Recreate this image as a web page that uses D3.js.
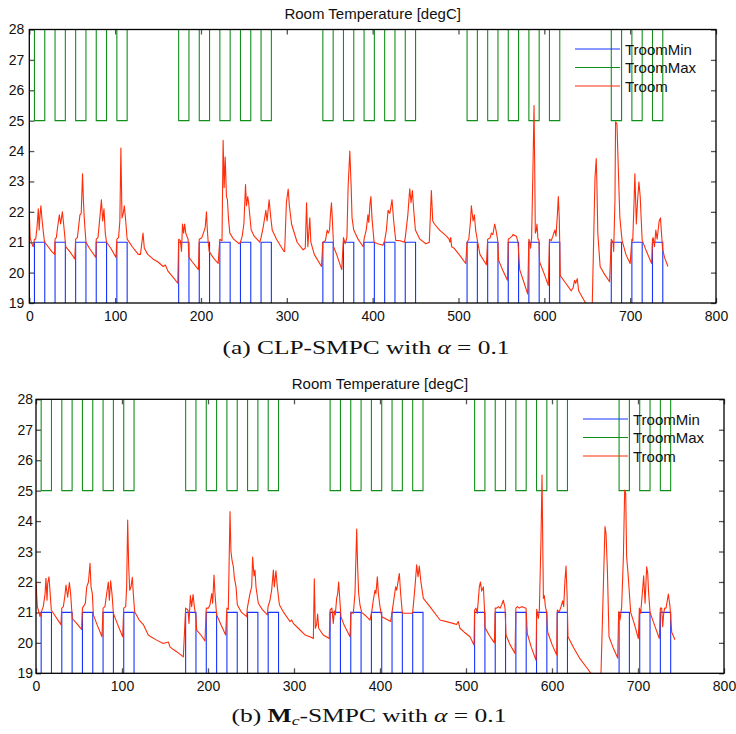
<!DOCTYPE html>
<html><head><meta charset="utf-8">
<script src="https://cdn.jsdelivr.net/npm/d3@7"></script>
<style>
html,body{margin:0;padding:0;background:#fff;}
svg{display:block;}
text{font-family:"Liberation Sans",Arial,Helvetica,sans-serif;fill:#111;}
</style></head>
<body>
<script>
// ---------- DATA ----------
const xTicks = [0,100,200,300,400,500,600,700,800];
const yTicks = [19,20,21,22,23,24,25,26,27,28];
const chartTitle = "Room Temperature [degC]";
const seriesNames = ["TroomMin","TroomMax","Troom"];

// setpoint change times (hours) and the bound values after each change
const setpointTimes = [0,6,18,30,42,54,66,78,90,102,114,
  174,186,198,210,222,234,246,258,270,282,
  342,354,366,378,390,402,414,426,438,450,
  510,522,534,546,558,570,582,594,606,618,
  678,690,702,714,726,738,744];
const troomMinVals = [16,21,16,21,16,21,16,21,16,21,16,
  21,16,21,16,21,16,21,16,21,16,
  21,16,21,16,21,16,21,16,21,16,
  21,16,21,16,21,16,21,16,21,16,
  21,16,21,16,21,16,16];
const troomMaxVals = [30,25,30,25,30,25,30,25,30,25,30,
  25,30,25,30,25,30,25,30,25,30,
  25,30,25,30,25,30,25,30,25,30,
  25,30,25,30,25,30,25,30,25,30,
  25,30,25,30,25,30,30];

// (a) CLP-SMPC room temperature [hour, degC]
const troomA = [[0,22.0],[1,21.15],[3,20.95],[4.5,20.85],[6,21.1],[7.5,21.1],[9,21.5],[10.5,22.1],[11.5,21.4],[12.5,21.9],[13.5,22.2],[15,21.7],[16.5,21.3],[17.5,21.05],[18,21.0],[22,20.85],[26,20.7],[29.5,20.6],
[30,21.1],[31.5,21.15],[33,21.5],[35,21.9],[36.5,21.6],[38.5,22.0],[40,21.6],[42,21.0],[42.5,20.85],[47,20.7],[53,20.45],
[54,21.1],[56,21.15],[59,21.9],[60.5,21.95],[62,23.25],[63,22.4],[64,21.8],[66,21.0],[70,20.8],[77.5,20.5],
[78,21.1],[80,21.15],[82.5,21.9],[84,22.4],[85.5,21.7],[87,22.1],[88.5,21.3],[90,21.0],[95,20.8],[101,20.5],
[102,21.1],[104,21.15],[105.5,21.7],[106.7,24.1],[108,21.8],[109.5,21.95],[110.7,22.2],[112,21.8],[114,21.1],[120,20.85],[127,20.6],[129.5,20.6],[132.5,21.3],[134,20.8],[138,20.6],[144,20.45],[150,20.35],[156,20.2],[158.5,20.25],[161.5,20.05],[166,19.9],[173,19.65],
[174,21.1],[176,21.05],[177.3,20.7],[178.5,21.6],[179.8,21.3],[181,21.6],[182.3,21.3],[185,21.1],[186,20.5],[190,20.35],[197,20.1],
[198,21.1],[201,21.15],[204,21.4],[205,21.5],[206.4,22.0],[207.2,21.5],[208.3,21.05],[209.5,20.7],[214,20.5],[220,20.3],
[222,21.1],[224.5,21.05],[225.8,24.35],[227,22.8],[228.2,23.8],[229.7,22.5],[230.8,22.4],[232,21.8],[233.6,21.3],[238,21.1],[244.5,20.95],
[246,21.0],[248,21.2],[250,21.6],[251.9,22.9],[253,22.2],[254.5,22.5],[255.5,22.3],[258.5,21.4],[262,21.2],[268.5,21.0],
[270,21.15],[272.5,21.5],[275.6,22.05],[277,21.7],[279.4,22.4],[281,21.9],[283,21.4],[288,21.1],[296.5,20.7],
[297.5,20.7],[299.5,22.3],[301.6,22.75],[303,22.2],[305.5,21.6],[312,21.0],[319,20.75],[321.5,20.8],[323,22.3],[324.5,20.85],[326.8,21.8],[328,21.0],[332,20.6],[340.4,20.2],
[342,21.0],[345,21.05],[347,21.4],[348.3,21.3],[349.8,21.4],[350.8,21.9],[352,22.3],[353,21.8],[354.5,20.85],[358,20.6],[364,20.1],
[366,21.15],[368,20.95],[370,21.15],[371.4,22.8],[373.4,24.0],[375,22.8],[376,21.8],[378,21.4],[383,21.1],[389,20.85],
[390,21.1],[392.5,21.4],[394.5,21.9],[395.5,21.65],[397,22.3],[398,22.5],[399.2,21.8],[401.7,21.0],[406,20.95],[412,20.9],
[414,21.05],[416,21.4],[418,22.05],[420,21.95],[422.6,22.4],[424.5,21.7],[426.9,21.06],[432,21.05],[437,21.0],
[438,21.15],[441,21.9],[443.2,22.76],[444.7,22.3],[446.3,22.7],[448,22.0],[449.8,21.4],[455,21.1],[462,20.95],[466,21.0],[468.4,22.7],[470,21.7],[472,21.6],[478,21.4],[486,21.2],[489,21.1],[490,21.0],[491,21.15],[492,20.85],[495,20.8],[502,20.55],[508.4,20.3],
[510,21.0],[512,21.1],[514,21.7],[515,22.2],[517,21.7],[518.5,21.9],[520,21.4],[522.4,21.0],[525,20.6],[532.5,20.26],
[534,21.1],[537,21.15],[538.3,21.3],[540,21.25],[542.2,21.6],[543.7,21.4],[545.7,21.06],[546.8,20.4],[552,20.05],[557,19.75],
[558,21.1],[560.5,21.15],[562.5,21.2],[563.5,21.25],[567.5,21.2],[569.3,21.0],[571.3,20.1],[576,19.7],[580.6,19.3],
[582,21.1],[583.2,20.95],[584,20.8],[585.2,21.15],[586.8,23.5],[588,25.5],[588.8,23.5],[589.5,21.3],[590.7,21.4],[591.4,21.6],[592.6,21.1],[593.8,21.06],[594.5,20.35],[600,19.95],[604.6,19.58],
[606,21.1],[608,21.05],[610,21.2],[611,21.3],[612.4,21.4],[613.6,21.2],[615.2,21.9],[616.3,22.5],[617.4,21.8],[618,20.9],[618.6,19.9],[625,19.65],[631.4,19.4],[633.5,19.5],[635.3,19.75],[636.5,19.65],[638.4,19.8],[640,19.4],[648,19.0],[650,18.8],[655.5,18.5],
[659,23.1],[660.5,23.75],[661.2,23.0],[662.3,21.3],[665,20.2],[670,19.95],[676,19.7],
[678,21.1],[680,21.0],[680.8,20.7],[682.3,22.4],[683,24.96],[684.6,24.9],[686.5,23.15],[688,21.8],[690.6,21.06],[695,20.6],[700,20.3],
[702,21.1],[703,21.05],[704.4,22.2],[705.5,23.25],[707.2,21.6],[708.7,22.4],[710.2,22.98],[711.7,22.5],[712.8,21.8],[714,21.06],[719,20.7],[725,20.3],
[726,21.1],[726.8,21.15],[728.3,20.85],[729.9,21.4],[731.4,21.1],[732.6,21.4],[733.8,21.7],[735.3,21.8],[736.5,21.3],[737.7,20.8],[740,20.5],[744,20.2]];

// (b) Mc-SMPC room temperature [hour, degC]
const troomB = [[0,22.0],[1.5,21.2],[4.7,20.86],[6,21.0],[8.5,21.2],[10.5,21.6],[11.6,22.12],[12.8,21.4],[13.6,21.95],[15.1,22.17],[16.3,21.7],[17.8,21.07],[22,20.9],[29,20.6],
[30,21.14],[31.8,21.19],[33.7,21.57],[34.9,21.9],[36.8,21.5],[38.8,21.98],[40.3,21.6],[42.2,20.8],[47,20.65],[53,20.44],
[54,21.14],[57.4,21.3],[59,21.84],[61,22.0],[62.8,22.61],[64,21.84],[65.5,21.62],[66.7,20.92],[71,20.6],[76.7,20.2],
[78,21.14],[80.2,21.19],[82.2,21.62],[84.1,22.0],[85.3,21.4],[86.8,22.04],[88.4,21.6],[90,20.97],[95,20.6],[100.8,20.2],
[102,21.14],[104.3,21.19],[105.4,21.84],[106.6,24.03],[107.8,22.5],[109,21.73],[110.5,21.84],[112,22.15],[113.2,21.6],[114.7,21.02],[120,20.75],[124.8,20.6],[130.6,20.26],[132.6,20.22],[140.3,20.09],[148,19.98],[153.9,20.03],[155.8,19.87],[159.7,19.78],[163.6,19.71],[171.3,19.54],
[174,21.14],[176.7,21.08],[177.9,20.64],[179.5,21.55],[181,21.19],[182.6,21.59],[184.1,21.19],[186,20.86],[186.8,20.42],[192,20.25],[196.5,20.06],
[198,21.14],[200.4,21.14],[202.3,21.25],[204.3,21.62],[205.4,21.3],[207,22.23],[208.1,21.62],[210,20.92],[215,20.6],[220.5,20.26],
[222,21.14],[223.6,21.1],[225.6,24.31],[226.7,23.0],[227.9,22.72],[229.5,22.5],[230.6,22.15],[232.6,21.84],[234.1,21.25],[239,21.0],[245,20.86],
[245.7,21.14],[248.8,21.62],[250.8,21.84],[251.9,22.82],[253.5,22.2],[254.6,22.39],[255.8,21.84],[258.5,21.3],[263,21.1],[269,20.92],
[269.8,21.19],[272.1,21.4],[274,21.73],[276,22.39],[277.1,21.84],[279,22.37],[280.6,21.84],[283,21.25],[288,21.0],[295.3,20.7],
[297.3,20.75],[299.2,20.64],[305,20.48],[312.8,20.26],[318.6,20.2],[322.5,20.14],[323.6,22.1],[324.8,20.48],[326.3,20.6],[327.5,20.95],[328.7,20.48],[334,20.26],[341,20.14],
[342,21.08],[344,21.14],[345.7,20.64],[346.9,21.05],[348,20.92],[349.6,21.46],[350.8,21.62],[351.9,22.0],[353.1,21.5],[354.6,20.86],[358,20.6],[365.1,20.2],
[366.3,21.0],[369,20.97],[370.9,21.62],[372.9,23.74],[374,22.5],[375.2,21.62],[376.7,21.25],[378.7,21.0],[383,20.9],[388.4,20.75],
[390.3,21.0],[392.2,21.4],[394.2,21.73],[395.3,21.62],[396.9,22.17],[398.1,21.62],[400,21.19],[402,20.86],[406,20.8],[412.4,20.7],
[414,21.0],[416.3,21.46],[418.2,21.84],[419.4,21.73],[422.5,22.28],[424,21.62],[426,20.97],[432,20.97],[436.8,20.97],
[438,21.0],[440.7,21.84],[442.6,22.56],[444.2,22.17],[445.7,22.52],[447.3,22.06],[450.4,21.46],[458,21.19],[469.8,20.75],[485,20.64],[489,20.6],[491,20.7],[493,20.48],[498,20.35],[504.6,20.2],[509.3,19.93],
[510,21.08],[511.6,21.14],[513.1,20.97],[515.5,21.84],[516.8,22.0],[518.2,21.7],[520.2,21.84],[521.5,21.1],[522.1,20.5],[527,20.25],[533,20.0],
[534,21.14],[535.7,21.14],[537.6,21.19],[539.6,21.14],[541.5,21.25],[543.4,21.4],[545.4,21.14],[546.5,20.26],[551,19.95],[557,19.65],
[558,21.14],[559.7,21.19],[562,21.14],[564.7,21.19],[566.7,21.17],[569.8,21.14],[571.3,20.3],[576,19.85],[581.4,19.43],
[582.2,21.1],[584.1,20.8],[585.3,21.08],[587.2,23.4],[588.4,25.51],[589.2,23.4],[590,21.46],[591.1,21.55],[592.3,21.19],[593.8,21.0],[595,20.35],[600,19.95],[605.4,19.6],
[606.2,21.08],[608.5,21.02],[610.5,21.19],[612.4,21.38],[613.6,21.19],[615.1,22.06],[616.3,22.52],[617.5,21.62],[618.6,20.2],[625,19.85],[632,19.5],[640,19.2],[645.4,19.0],[650,18.7],[656.6,18.6],
[661.6,23.82],[662.8,23.6],[664.4,22.4],[666.3,20.2],[671,19.85],[676.4,19.5],
[677.5,21.02],[679.1,20.75],[681,21.19],[683,22.82],[684.5,25.02],[685.7,24.91],[686.8,22.82],[688.4,22.28],[690,21.62],[691.5,21.0],[696,20.6],[700.4,20.14],
[701.6,21.14],[703.1,20.97],[705,21.62],[706.6,22.2],[708.2,21.3],[710.1,22.5],[711.3,22.28],[712.4,21.62],[714,21.0],[719,20.6],[724.8,20.14],
[726,21.14],[727.5,21.14],[728.7,20.53],[729.9,20.97],[731,21.14],[732.6,21.14],[735.3,21.6],[737.2,21.19],[739.2,20.35],[743,20.1]];

// ---------- DRAW ----------
const W = 736, H = 734;
const svg = d3.select("body").append("svg").attr("width", W).attr("height", H);
const colors = {min:"#1535ff", max:"#10901a", room:"#ff2d0a"};

function drawPanel(id, box, troom, legendPos, labelPad) {
  const x = d3.scaleLinear().domain([0,800]).range([box.l, box.r]);
  const y = d3.scaleLinear().domain([19,28]).range([box.b, box.t]);
  const g = svg.append("g");
  const clipId = "clip" + id;
  svg.append("clipPath").attr("id", clipId).append("rect")
    .attr("x", box.l).attr("y", box.t).attr("width", box.r - box.l).attr("height", box.b - box.t);

  // axes (inward ticks)
  const tickStyle = sel => { sel.select(".domain").remove(); sel.selectAll(".tick line").attr("stroke","#555").attr("stroke-width",1.3); sel.selectAll("text").attr("font-size",14).attr("fill","#111").style("font-family","'Liberation Sans',Arial,sans-serif"); };
  g.append("g").attr("transform",`translate(0,${box.b})`)
    .call(d3.axisBottom(x).tickValues(xTicks).tickSizeInner(-5).tickSizeOuter(0).tickPadding(labelPad.x).tickFormat(d3.format("d"))).call(tickStyle);
  g.append("g").attr("transform",`translate(0,${box.t})`)
    .call(d3.axisTop(x).tickValues(xTicks).tickSizeInner(-5).tickSizeOuter(0).tickFormat("")).call(tickStyle);
  g.append("g").attr("transform",`translate(${box.l},0)`)
    .call(d3.axisLeft(y).tickValues(yTicks).tickSizeInner(-5).tickSizeOuter(0).tickPadding(labelPad.y).tickFormat(d3.format("d"))).call(tickStyle);
  g.append("g").attr("transform",`translate(${box.r},0)`)
    .call(d3.axisRight(y).tickValues(yTicks).tickSizeInner(-5).tickSizeOuter(0).tickFormat("")).call(tickStyle);

  const plot = g.append("g").attr("clip-path", `url(#${clipId})`);
  const stepLine = d3.line().curve(d3.curveStepAfter).x(d => x(d[0])).y(d => y(d[1]));
  const minData = setpointTimes.map((t,i) => [t, troomMinVals[i]]);
  const maxData = setpointTimes.map((t,i) => [t, troomMaxVals[i]]);
  plot.append("path").attr("d", stepLine(minData)).attr("fill","none").attr("stroke",colors.min).attr("stroke-width",1.1);
  plot.append("path").attr("d", stepLine(maxData)).attr("fill","none").attr("stroke",colors.max).attr("stroke-width",1.1);
  const line = d3.line().x(d => x(d[0])).y(d => y(d[1]));
  plot.append("path").attr("d", line(troom)).attr("fill","none").attr("stroke",colors.room).attr("stroke-width",1.1).attr("stroke-linejoin","round");

  // frame
  g.append("rect").attr("x",box.l).attr("y",box.t).attr("width",box.r-box.l).attr("height",box.b-box.t)
    .attr("fill","none").attr("stroke","#000").attr("stroke-width",1.3);

  // title
  g.append("text").attr("x",(box.l+box.r)/2).attr("y",box.t-10.5).attr("text-anchor","middle")
    .attr("font-size",15).text(chartTitle);

  // legend
  const lc = [colors.min, colors.max, colors.room];
  seriesNames.forEach((name,i) => {
    const yy = legendPos.y + i*18.5;
    g.append("line").attr("x1",legendPos.x).attr("x2",legendPos.x+45).attr("y1",yy).attr("y2",yy)
      .attr("stroke",lc[i]).attr("stroke-width",1.1);
    g.append("text").attr("x",legendPos.x+50).attr("y",yy+5.5).attr("font-size",15).text(name);
  });
}

drawPanel("a", {l:29.3, r:716, t:29.5, b:303}, troomA, {x:575, y:49}, {x:8, y:5});
drawPanel("b", {l:36, r:724, t:399.3, b:673.3}, troomB, {x:583, y:419}, {x:8, y:3});

// captions
const serif = "'Liberation Serif','Times New Roman',serif";
const capA = svg.append("text").attr("x",366).attr("y",354).attr("text-anchor","middle")
  .style("font-family",serif).attr("font-size",19).attr("textLength",287).attr("lengthAdjust","spacingAndGlyphs");
capA.append("tspan").text("(a) CLP-SMPC with ");
capA.append("tspan").attr("font-style","italic").text("α");
capA.append("tspan").text(" = 0.1");
const capB = svg.append("text").attr("x",369).attr("y",722).attr("text-anchor","middle")
  .style("font-family",serif).attr("font-size",19).attr("textLength",275).attr("lengthAdjust","spacingAndGlyphs");
capB.append("tspan").text("(b) ");
capB.append("tspan").attr("font-weight","bold").text("M");
capB.append("tspan").attr("font-style","italic").attr("font-size",13).attr("dy",3).text("c");
capB.append("tspan").attr("dy",-3).text("-SMPC with ");
capB.append("tspan").attr("font-style","italic").text("α");
capB.append("tspan").text(" = 0.1");
</script>
</body></html>
